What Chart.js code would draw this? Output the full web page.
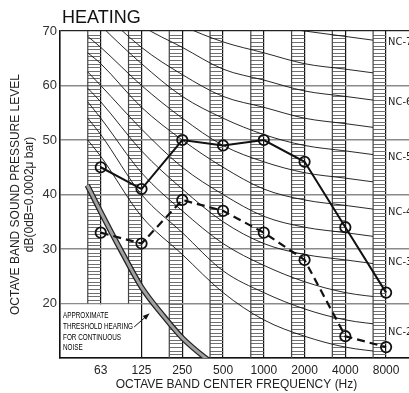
<!DOCTYPE html>
<html>
<head>
<meta charset="utf-8">
<script src="https://cdn.jsdelivr.net/npm/chart.js@4.4.0/dist/chart.umd.min.js"></script>
<style>
html, body { margin: 0; padding: 0; overflow: hidden; background: #fff; }
#wrap { width: 420px; height: 393px; }
</style>
</head>
<body>
<div id="wrap"><canvas id="chart"></canvas></div>
<script>
// octave bands
const freqs = ['63', '125', '250', '500', '1000', '2000', '4000', '8000'];

// measured levels (dB)
const solidLevels = [45, 41, 50, 49, 50, 46, 34, 22];
const dashedLevels = [33, 31, 39, 37, 33, 28, 14, 12];

// NC curves, one value per octave band
const nc15 = [47, 36, 29, 22, 17, 14, 12, 11];
const nc20 = [51, 40, 33, 26, 22, 19, 17, 16];
const nc25 = [54, 44, 37, 31, 27, 24, 22, 21];
const nc30 = [57, 48, 41, 35, 31, 29, 28, 27];
const nc35 = [60, 52, 45, 40, 36, 34, 33, 32];
const nc40 = [64, 56, 50, 45, 41, 39, 38, 37];
const nc45 = [67, 60, 54, 49, 46, 44, 43, 42];
const nc50 = [71, 64, 58, 54, 51, 49, 48, 47];
const nc55 = [74, 67, 62, 58, 56, 54, 53, 52];
const nc60 = [77, 71, 67, 63, 61, 59, 58, 57];
const nc65 = [80, 75, 71, 68, 66, 64, 63, 62];
const nc70 = [83, 79, 75, 72, 71, 70, 69, 68];
// where each curve starts, at the left edge of the 63 Hz band
const ncStart = [50, 54, 57, 59.5, 62.5, 66, 69, 73.5, 77, 80.5, 83.5, 86];

// labels at the right end of the curves
const ncLabels = ['NC-7', 'NC-6', 'NC-5', 'NC-4', 'NC-3', 'NC-2'];
const ncLabelLevels = [68, 57, 46.9, 36.8, 27.6, 14.8];

// approximate threshold of hearing (position in octave steps, dB)
const thresholdPos = [0.67, 1, 1.5, 2, 2.55, 3, 3.57, 4.1];
const thresholdLevels = [41.7, 36.8, 29.7, 23, 17.6, 13.7, 10, 7.2];

const thresholdText = ['APPROXIMATE', 'THRESHOLD HEARING', 'FOR CONTINUOUS', 'NOISE'];

const LADDER_W = 13;     // px, hatched band left of each octave line
const NC_START = 0.68;   // left edge of the 63 Hz band, in octave steps
const RUNG_STEP = 2 / 3; // dB between rungs

Chart.defaults.font.family = '"Liberation Sans", Arial, sans-serif';
Chart.defaults.color = '#222';

const ncCurves = [nc15, nc20, nc25, nc30, nc35, nc40, nc45, nc50, nc55, nc60, nc65, nc70];

const datasets = [];
ncCurves.forEach((c, k) => {
  datasets.push({
    data: [{ x: NC_START, y: ncStart[k] }].concat(c.map((v, i) => ({ x: i + 1, y: v }))),
    borderColor: '#111',
    borderWidth: 0.9,
    pointRadius: 0,
    cubicInterpolationMode: 'monotone',
    clip: { left: 0, top: 0, right: -40, bottom: 0 },
    order: 5
  });
});
const thresholdData = thresholdPos.map((p, i) => ({ x: p, y: thresholdLevels[i] }));
datasets.push({
  data: thresholdData,
  borderColor: '#222',
  borderWidth: 5.5,
  pointRadius: 0,
  cubicInterpolationMode: 'monotone',
  order: 4
});
datasets.push({
  data: thresholdData,
  borderColor: '#a0a0a0',
  borderWidth: 3,
  pointRadius: 0,
  cubicInterpolationMode: 'monotone',
  order: 3
});
datasets.push({
  data: dashedLevels.map((v, i) => ({ x: i + 1, y: v })),
  borderColor: '#111',
  borderWidth: 2.2,
  borderDash: [8, 5],
  pointRadius: 5.2,
  pointBorderWidth: 1.8,
  pointBorderColor: '#111',
  pointBackgroundColor: 'rgba(0,0,0,0)',
  order: 2
});
datasets.push({
  data: solidLevels.map((v, i) => ({ x: i + 1, y: v })),
  borderColor: '#111',
  borderWidth: 2,
  pointRadius: 5.2,
  pointBorderWidth: 1.8,
  pointBorderColor: '#111',
  pointBackgroundColor: 'rgba(0,0,0,0)',
  order: 1
});

const ladders = {
  id: 'ladders',
  beforeDatasetsDraw(chart) {
    const { ctx, chartArea, scales: { x, y } } = chart;
    ctx.save();
    freqs.forEach((f, i) => {
      const xr = x.getPixelForValue(i + 1);
      const xl = xr - LADDER_W;
      const bottomVal = i < 2 ? 20 : 10;
      ctx.strokeStyle = '#707070';
      ctx.lineWidth = 1;
      const n = Math.round((70 - bottomVal) / RUNG_STEP);
      for (let k = 1; k < n; k++) {
        const py = Math.round(y.getPixelForValue(bottomVal + k * RUNG_STEP)) + 0.5;
        ctx.beginPath();
        ctx.moveTo(xl, py);
        ctx.lineTo(xr, py);
        ctx.stroke();
      }
      ctx.strokeStyle = '#444';
      ctx.lineWidth = 1.2;
      ctx.beginPath();
      ctx.moveTo(xl, y.getPixelForValue(70));
      ctx.lineTo(xl, y.getPixelForValue(bottomVal));
      ctx.stroke();
    });
    // blank corner for the note
    const bx0 = chartArea.left + 1;
    const bx1 = x.getPixelForValue(2) - 1;
    const by0 = y.getPixelForValue(20) + 1;
    const by1 = chartArea.bottom - 1;
    ctx.fillStyle = '#fff';
    ctx.fillRect(bx0, by0, bx1 - bx0, by1 - by0);
    ctx.restore();
  },
  afterDatasetsDraw(chart) {
    const { ctx, scales: { x, y } } = chart;
    ctx.save();
    // note text, squeezed like the original lettering
    ctx.fillStyle = '#000';
    ctx.font = '9.5px "Liberation Sans", Arial, sans-serif';
    ctx.textBaseline = 'alphabetic';
    const sx = 70 / ctx.measureText(thresholdText[1]).width;
    const tx = x.getPixelForValue(0) + 3;
    const baselines = [318, 328.5, 339.5, 350];
    thresholdText.forEach((t, i) => {
      ctx.save();
      ctx.translate(tx, baselines[i]);
      ctx.scale(sx, 1);
      ctx.fillText(t, 0, 0);
      ctx.restore();
    });
    // arrow to the threshold band
    const ax0 = x.getPixelForValue(1.82), ay0 = y.getPixelForValue(15.7);
    const ax1 = x.getPixelForValue(2.2), ay1 = y.getPixelForValue(18.2);
    const ang = Math.atan2(ay1 - ay0, ax1 - ax0);
    ctx.strokeStyle = '#111';
    ctx.lineWidth = 1;
    ctx.beginPath();
    ctx.moveTo(ax0, ay0);
    ctx.lineTo(ax1 - 4 * Math.cos(ang), ay1 - 4 * Math.sin(ang));
    ctx.stroke();
    ctx.beginPath();
    ctx.moveTo(ax1, ay1);
    ctx.lineTo(ax1 - 7 * Math.cos(ang) + 2.5 * Math.sin(ang), ay1 - 7 * Math.sin(ang) - 2.5 * Math.cos(ang));
    ctx.lineTo(ax1 - 7 * Math.cos(ang) - 2.5 * Math.sin(ang), ay1 - 7 * Math.sin(ang) + 2.5 * Math.cos(ang));
    ctx.closePath();
    ctx.fillStyle = '#111';
    ctx.fill();
    // NC labels
    ctx.font = '11px "Liberation Sans Narrow", "DejaVu Sans Condensed", sans-serif';
    ctx.textBaseline = 'middle';
    ctx.textAlign = 'left';
    ctx.fillStyle = '#222';
    ncLabels.forEach((t, i) => {
      ctx.fillText(t, x.getPixelForValue(8) + 2, y.getPixelForValue(ncLabelLevels[i]));
    });
    // title
    ctx.font = '18px "Liberation Sans", Arial, sans-serif';
    ctx.textBaseline = 'alphabetic';
    ctx.fillStyle = '#111';
    ctx.fillText('HEATING', chart.chartArea.left + 2, 23);
    ctx.restore();
  }
};

new Chart(document.getElementById('chart'), {
  type: 'line',
  data: { datasets },
  plugins: [ladders],
  options: {
    responsive: true,
    maintainAspectRatio: false,
    animation: false,
    layout: { padding: { top: 31, right: 5, left: 6, bottom: 0 } },
    plugins: { legend: { display: false }, tooltip: { enabled: false } },
    scales: {
      x: {
        type: 'linear',
        min: 0,
        max: 8.66,
        afterFit(s) { s.height = 35; },
        ticks: {
          stepSize: 1,
          includeBounds: false,
          padding: 5,
          color: '#222',
          font: { size: 12 },
          callback: v => freqs[v - 1] || ''
        },
        grid: { color: '#111', lineWidth: 1.2, drawTicks: false },
        border: { color: '#111', width: 1.5 },
        title: {
          display: true,
          text: 'OCTAVE BAND CENTER FREQUENCY (Hz)',
          font: { size: 12 },
          color: '#222',
          padding: { top: 1, bottom: 1 }
        }
      },
      y: {
        min: 10,
        max: 70,
        afterFit(s) { s.width = 54; },
        ticks: {
          stepSize: 10,
          padding: 3,
          color: '#333',
          font: { size: 13 },
          callback: v => (v === 10 ? '' : v)
        },
        grid: {
          drawTicks: false,
          color: c => (c.tick.value === 70 ? '#222' : '#8a8a8a'),
          lineWidth: c => (c.tick.value === 70 ? 1.3 : 1.5)
        },
        border: { color: '#111', width: 1.5 },
        title: {
          display: true,
          text: ['OCTAVE BAND SOUND PRESSURE LEVEL', 'dB(0dB=0.0002\u03bc bar)'],
          font: { size: 12 },
          color: '#222',
          padding: { top: 2, bottom: 2 }
        }
      }
    }
  }
});
</script>
</body>
</html>
